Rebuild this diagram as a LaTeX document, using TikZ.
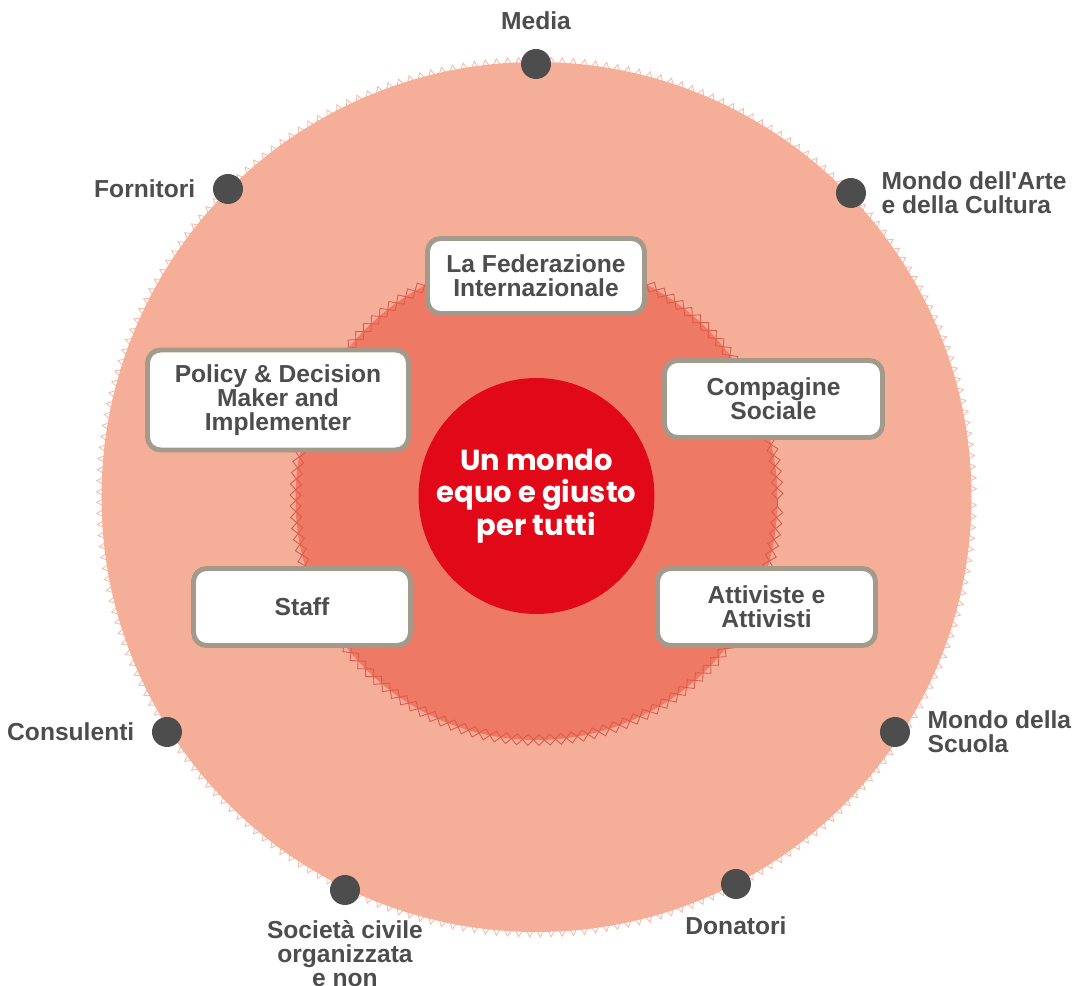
\documentclass[tikz,border=0pt]{standalone}
\usepackage{fontspec}
\setmainfont{Liberation Sans}
\newfontfamily\mondofont{Poppins}
\usetikzlibrary{positioning,decorations.pathmorphing}
\definecolor{outerpink}{HTML}{F5AF99}
\definecolor{teethpink}{HTML}{F7BBA9}
\definecolor{innersalmon}{HTML}{EE7A66}
\definecolor{chainred}{HTML}{E0594A}
\definecolor{mondored}{HTML}{E10817}
\definecolor{dotgray}{HTML}{4D4D4D}
\definecolor{boxgray}{HTML}{A39A8B}

\begin{document}
\begin{tikzpicture}[x=0.02cm, y=0.02cm]
	\tikzstyle{every node} = [font=\fontsize{14}{13.6}\selectfont\bfseries, text=dotgray, inner sep=0pt]
	\tikzstyle{dot} = [circle, fill=dotgray, minimum size=0.6cm]
	\tikzstyle{actor} = [draw=boxgray, line width=2.8pt, fill=white, rounded corners=0.26cm, align=center, minimum width=4.36cm, minimum height=1.54cm]
	\useasboundingbox (-536.5,-489) rectangle (536.5,497);
	% rings
	\draw [teethpink, line width=0.5pt, decorate, decoration={zigzag, segment length=0.22cm, amplitude=0.1cm}] (0,0) circle (435);
	\fill [outerpink] (0,0) circle (435);
	\fill [innersalmon] (0,-2) circle (241);
	\draw [chainred, line width=0.5pt, decorate, decoration={zigzag, segment length=0.44cm, amplitude=0.11cm}] (0,-2) circle (241);
	\draw [chainred, line width=0.5pt, decorate, decoration={zigzag, segment length=0.44cm, amplitude=0.11cm, mirror}] (0,-2) circle (241);
	\node (mondo) [circle, fill=mondored, minimum size=4.72cm, align=center, text=white, font=\mondofont\fontsize{16.5}{18.4}\selectfont\bfseries] at (0,1) {Un mondo\\equo e giusto\\per tutti};
	% inner ring
	\node (federazione) [actor, minimum width=4.34cm, minimum height=1.5cm] at (-0.5,221) {La Federazione\\Internazionale};
	\node (policy) [actor, minimum width=5.22cm, minimum height=2.0cm] at (-258.5,97) {Policy \& Decision\\Maker and\\Implementer};
	\node (compagine) [actor] at (237,98) {Compagine\\Sociale};
	\node (staff) [actor, minimum width=4.34cm] at (-234.5,-110) {Staff};
	\node (attivisti) [actor] at (230,-110) {Attiviste e\\Attivisti};
	% outer ring
	\node (media) [dot] at (-0.5,433) {};
	\node (fornitori) [dot] at (-308.5,308) {};
	\node (arte) [dot] at (314.5,304) {};
	\node (consulenti) [dot] at (-369.5,-235) {};
	\node (scuola) [dot] at (358.5,-235) {};
	\node (societa) [dot] at (-191.5,-393) {};
	\node (donatori) [dot] at (199.5,-387) {};
	\node (mediatext) [above=0.38cm of media] {Media};
	\node (fornitoritext) [left=0.34cm of fornitori] {Fornitori};
	\node (artetext) [right=0.3cm of arte, align=left] {Mondo dell\textquotesingle Arte\\e della Cultura};
	\node (consulentitext) [left=0.34cm of consulenti] {Consulenti};
	\node (scuolatext) [right=0.34cm of scuola, align=left] {Mondo della\\Scuola};
	\node (societatext) [below=0.3cm of societa, align=center] {Società civile\\organizzata\\e non};
	\node (donatoritext) [below=0.34cm of donatori] {Donatori};
\end{tikzpicture}
\end{document}
